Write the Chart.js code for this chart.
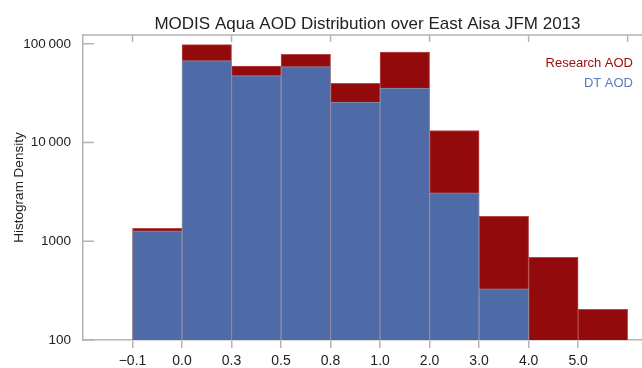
<!DOCTYPE html>
<html>
<head>
<meta charset="utf-8">
<script src="https://cdn.jsdelivr.net/npm/chart.js@4/dist/chart.umd.min.js"></script>
<style>
  body { margin: 0; background: #fff; }
  #wrap { width: 642px; height: 368px; }
</style>
</head>
<body>
<div id="wrap"><canvas id="myChart"></canvas></div>
<script>
// bin edges (tick labels) and histogram values
const binLabels = ["\u22120.1", "0.0", "0.3", "0.5", "0.8", "1.0", "2.0", "3.0", "4.0", "5.0"];
const researchAOD = [1350, 98400, 59700, 78400, 39800, 82800, 13250, 1790, 687, 204];
const dtAOD = [1280, 67600, 47600, 58800, 25700, 35700, 3090, 330, null, null];
const yTicks = [100, 1000, 10000, 100000];
const topTicks = [0, 2, 4, 6, 8, 10];

const titleText = "MODIS Aqua AOD Distribution over East Aisa JFM 2013";
const fontFamily = '"Liberation Sans", Arial, sans-serif';
const axisColor = '#b4b4b4';

Chart.defaults.font.family = fontFamily;
Chart.defaults.color = '#222';

// put each bin's bar in the middle of its two edges
const toPoints = arr => arr.map((v, i) => ({ x: i + 0.5, y: v }));

// 100000 -> "100 000"
const fmt = v => v >= 10000 ? String(v).replace(/\B(?=(\d{3})+(?!\d))/g, '\u2009') : String(v);

// top frame line, inward ticks, title and the text legend
const frame = {
  id: 'frame',
  afterDraw(chart) {
    const { ctx, chartArea: a, scales: { x, y } } = chart;
    ctx.save();
    ctx.strokeStyle = axisColor;
    ctx.lineWidth = 1.5;
    ctx.beginPath();
    ctx.moveTo(a.left, a.top);
    ctx.lineTo(a.right, a.top);
    topTicks.forEach(t => {
      const px = x.getPixelForValue(t);
      ctx.moveTo(px, a.top);
      ctx.lineTo(px, a.top + 7);
    });
    yTicks.forEach(v => {
      const py = y.getPixelForValue(v);
      ctx.moveTo(a.left, py);
      ctx.lineTo(a.left + 11, py);
    });
    ctx.stroke();

    ctx.fillStyle = '#222';
    ctx.font = '17px ' + fontFamily;
    ctx.textAlign = 'center';
    ctx.textBaseline = 'alphabetic';
    ctx.fillText(titleText, (a.left + a.right) / 2 + 5, 29);

    ctx.font = '13px ' + fontFamily;
    ctx.textAlign = 'right';
    ctx.fillStyle = '#a00d0d';
    ctx.fillText(chart.data.datasets[0].label, a.right - 9, a.top + 32);
    ctx.fillStyle = '#5a7bbf';
    ctx.fillText(chart.data.datasets[1].label, a.right - 9, a.top + 52);
    ctx.restore();
  }
};

const ctx = document.getElementById('myChart').getContext('2d');
const myChart = new Chart(ctx, {
  type: 'bar',
  data: {
    datasets: [{
      label: 'Research AOD',
      data: toPoints(researchAOD),
      backgroundColor: '#930a0c',
      borderColor: '#b84848',
      borderWidth: 1,
      order: 2,
      grouped: false,
      categoryPercentage: 1,
      barPercentage: 1
    }, {
      label: 'DT AOD',
      data: toPoints(dtAOD),
      backgroundColor: '#4e6ba8',
      borderColor: '#8a8fa6',
      borderWidth: 1,
      order: 1,
      grouped: false,
      categoryPercentage: 1,
      barPercentage: 1
    }]
  },
  options: {
    responsive: true,
    maintainAspectRatio: false,
    devicePixelRatio: 1,
    animation: false,
    layout: { padding: { top: 35, left: 0, right: 0, bottom: 0 } },
    plugins: {
      legend: { display: false },
      tooltip: { enabled: false },
      title: { display: false }
    },
    scales: {
      x: {
        type: 'linear',
        offset: false,
        min: -1,
        max: 10.29,
        afterBuildTicks: s => { s.ticks = binLabels.map((l, i) => ({ value: i })); },
        afterFit: s => { s.height = 28; },
        ticks: {
          callback: (v, i) => binLabels[i],
          autoSkip: false,
          maxRotation: 0,
          padding: 5,
          color: '#222',
          font: { size: 14 }
        },
        grid: { offset: false, drawOnChartArea: false, drawTicks: true, tickLength: 8, color: axisColor, lineWidth: 1.5 },
        border: { color: axisColor, width: 1.5 }
      },
      y: {
        type: 'logarithmic',
        min: 100,
        max: 123000,
        afterBuildTicks: s => { s.ticks = yTicks.map(v => ({ value: v })); },
        afterFit: s => { s.width = 83; },
        ticks: {
          callback: v => fmt(v),
          padding: 4,
          color: '#222',
          font: { size: 13.5 }
        },
        grid: { display: false },
        border: { color: axisColor, width: 1.5 },
        title: {
          display: true,
          text: 'Histogram Density',
          color: '#222',
          font: { size: 13.5 },
          padding: { top: 11, bottom: 0 }
        }
      }
    }
  },
  plugins: [frame]
});
</script>
</body>
</html>
